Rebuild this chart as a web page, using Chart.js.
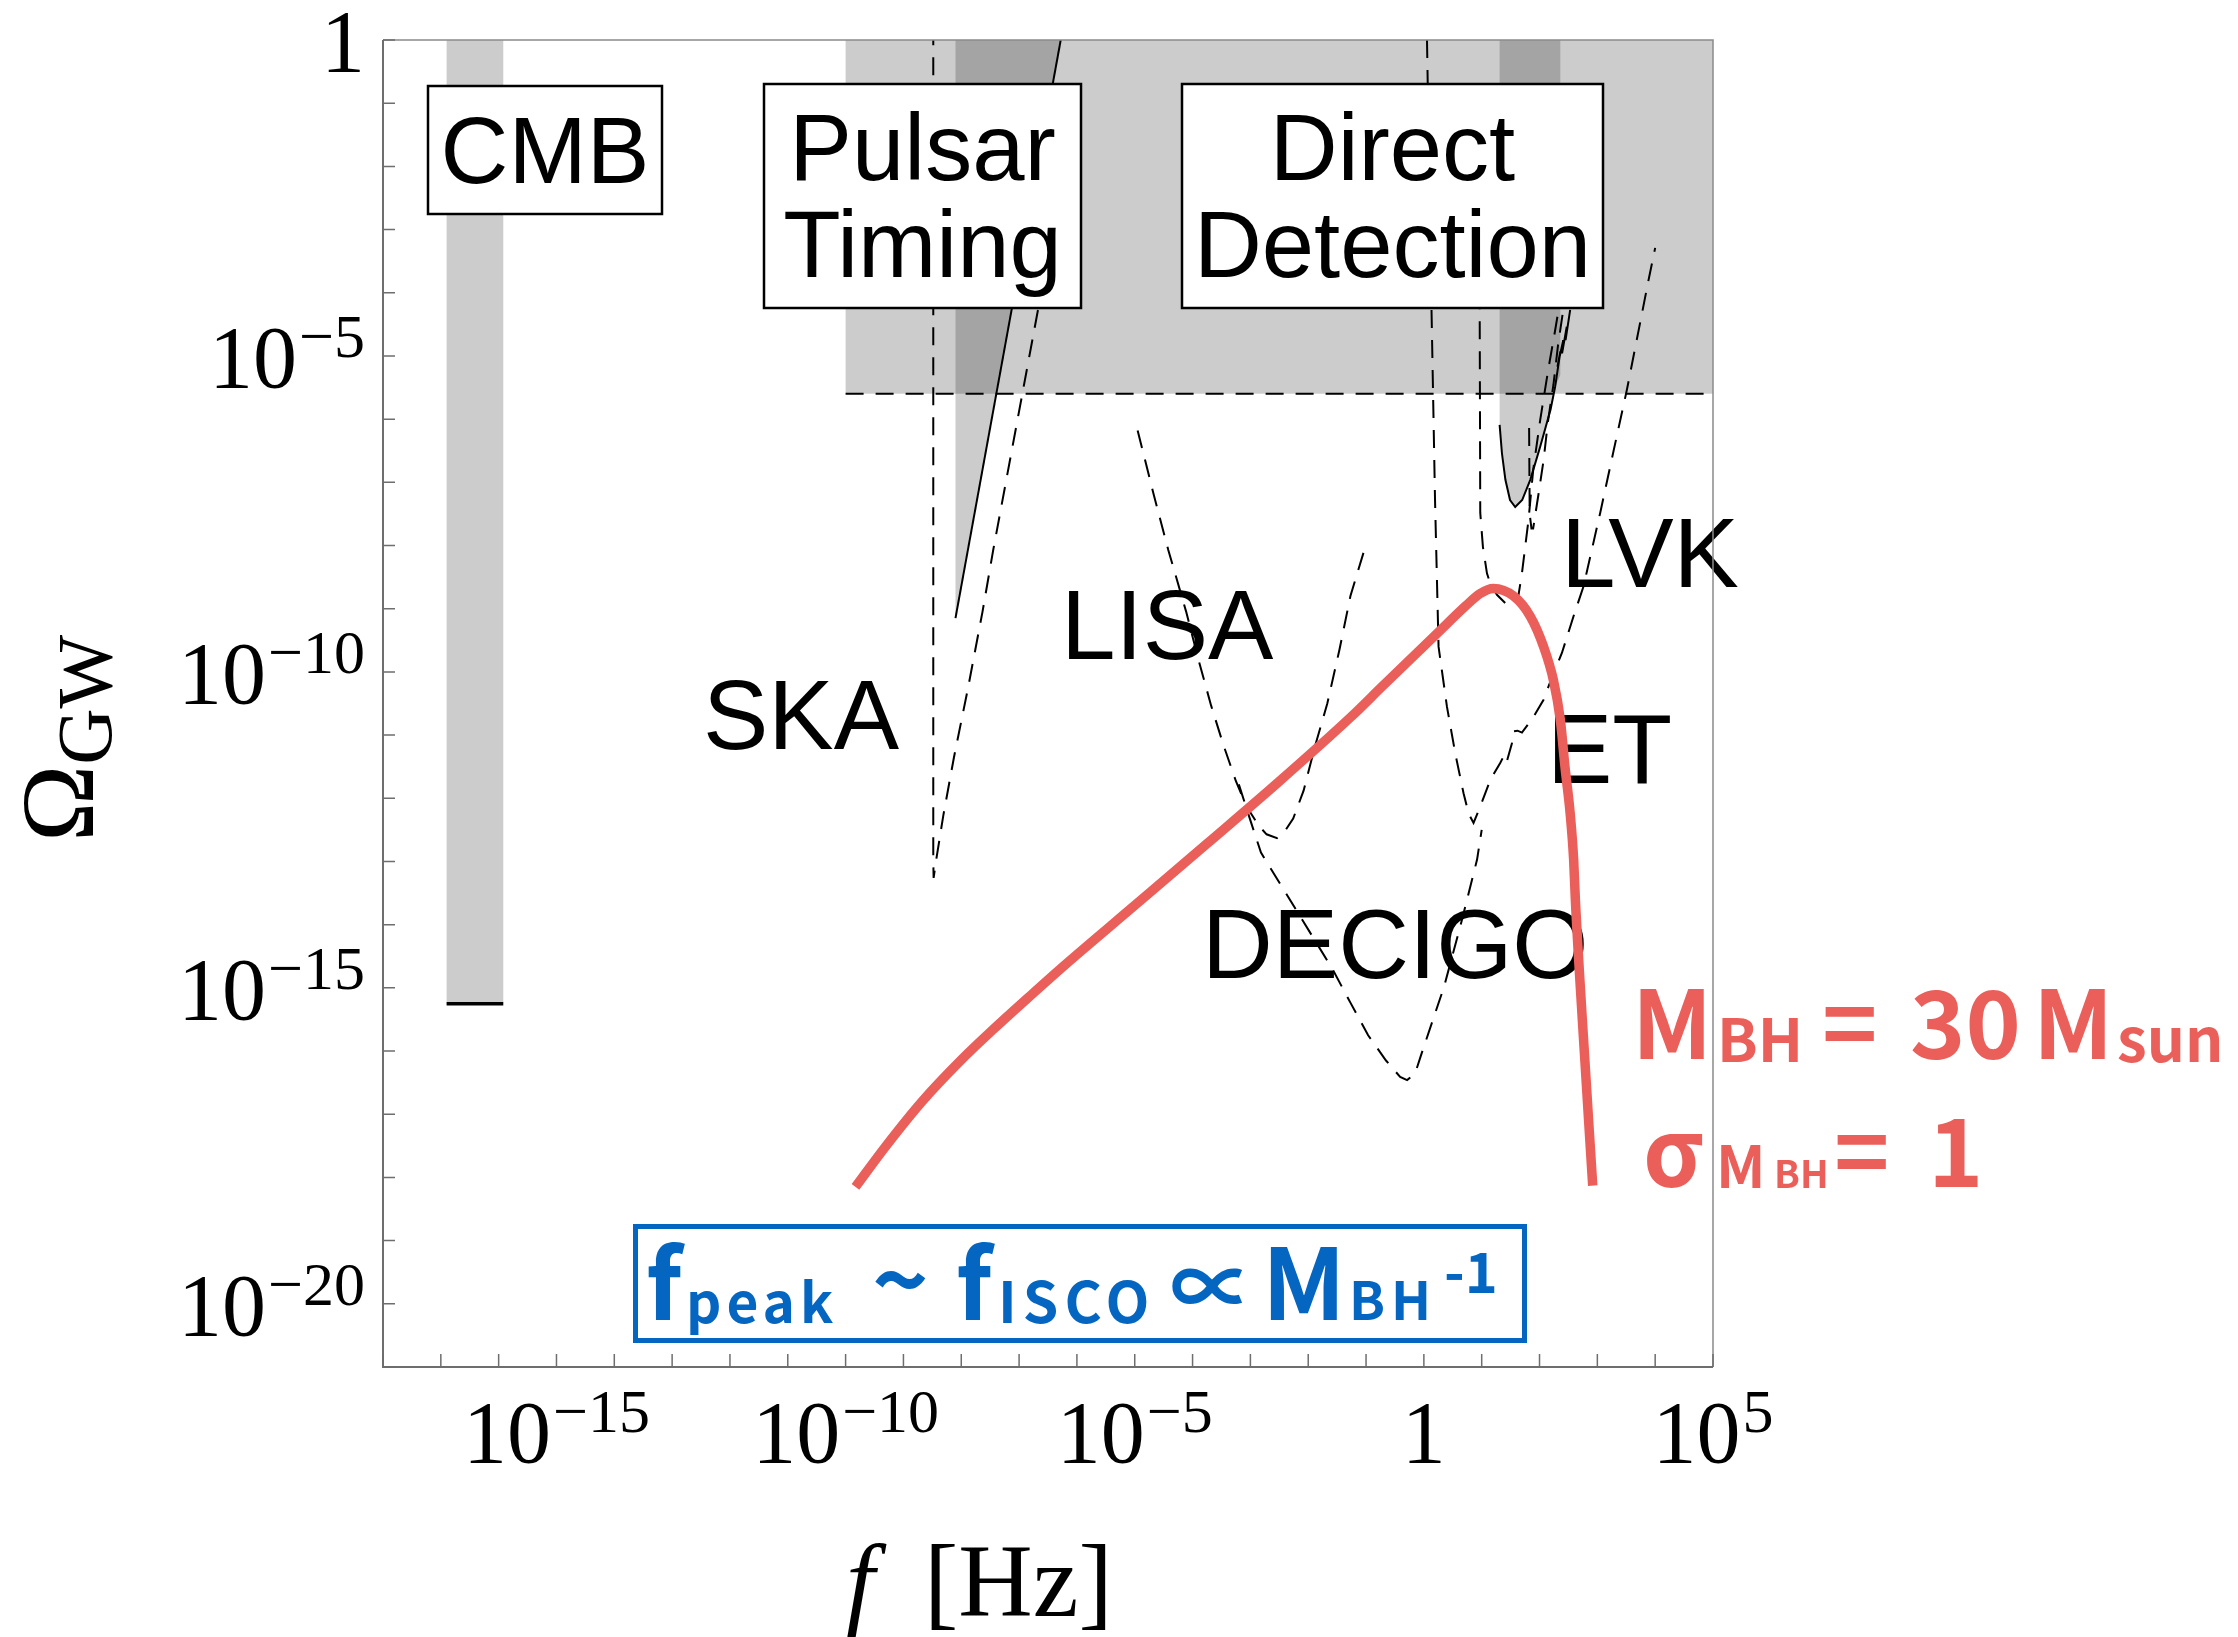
<!DOCTYPE html>
<html>
<head>
<meta charset="utf-8">
<title>Omega_GW vs f</title>
<script src="https://cdn.jsdelivr.net/npm/chart.js@4.4.1/dist/chart.umd.min.js"></script>
<style>
  html, body { margin: 0; padding: 0; background: #fff; }
  #wrap { width: 2238px; height: 1637px; }
</style>
</head>
<body>
<div id="wrap"><canvas id="gw" width="2238" height="1637"></canvas></div>
<script>
// every curve is kept as log10(f) / log10(Omega) pairs
const xRangeExp = [-18, 5];
const yRangeExp = [-21, 0];
const xTickExps = [-15, -10, -5, 0, 5];
const yTickExps = [0, -5, -10, -15, -20];

// shaded constraint regions
const cmbLogF = [-16.9, -15.92, -15.92, -16.9, -16.9];
const cmbLogOmega = [-15.25, -15.25, 0.2, 0.2, -15.25];
const directLogF = [-10, 5.3, 5.3, -10, -10];
const directLogOmega = [-5.6, -5.6, 0.2, 0.2, -5.6];
const ptaWedgeLogF = [-8.1, -8.1, -6.28, -6.2, -8.1];
const ptaWedgeLogOmega = [0.2, -9.15, 0, 0.2, 0.2];
const lvkBandLogF = [1.31, 1.31, 1.35, 1.41, 1.49, 1.58, 1.70, 1.84, 2.01, 2.19, 2.27, 2.36, 2.36, 1.31];
const lvkBandLogOmega = [0.2, -6.09, -6.54, -6.96, -7.28, -7.39, -7.28, -6.96, -6.44, -5.85, -5.49, -5.3, 0.2, 0.2];

// boundary lines
const cmbEdgeLogF = [-16.9, -15.92];
const cmbEdgeLogOmega = [-15.25, -15.25];
const directEdgeLogF = [-10, 5];
const directEdgeLogOmega = [-5.6, -5.6];
const ptaLineLogF = [-8.1, -6.28];
const ptaLineLogOmega = [-9.15, 0];
const lvkO3LogF = [1.31, 1.35, 1.41, 1.49, 1.58, 1.70, 1.84, 2.01, 2.19, 2.27, 2.36, 2.31, 2.41, 2.39, 2.47, 2.45, 2.53];
const lvkO3LogOmega = [-6.09, -6.54, -6.96, -7.28, -7.39, -7.28, -6.96, -6.44, -5.85, -5.49, -4.93, -5.17, -4.75, -4.96, -4.54, -4.75, -4.27];

// future detector sensitivities (dashed)
const skaLogF = [-8.484, -8.484, -8.478, -8.436, -8.31, -8.126, -7.88, -7.633, -7.447, -6.667, -6.4];
const skaLogOmega = [0.2, -13.0, -13.26, -12.99, -12.27, -11.35, -10.24, -9.05, -8.07, -4.24, -2.9];
const lisaLogF = [-4.95, -4.67, -4.42, -4.11, -3.9, -3.68, -3.465, -3.25, -3.06, -2.85, -2.72, -2.54, -2.41, -2.26, -2.08, -1.89, -1.67, -1.46, -1.27, -1.0];
const lisaLogOmega = [-6.18, -7.2, -8.07, -9.05, -9.8, -10.53, -11.16, -11.73, -12.14, -12.44, -12.57, -12.63, -12.53, -12.32, -11.88, -11.2, -10.5, -9.65, -8.8, -7.98];
const decigoLogF = [-3.2, -3.0, -2.817, -2.508, -2.2, -1.89, -1.582, -1.273, -0.964, -0.655, -0.41, -0.29, -0.15, -0.04, 0.35, 0.66, 0.92, 1.0];
const decigoLogOmega = [-11.78, -12.35, -12.86, -13.32, -13.78, -14.24, -14.70, -15.23, -15.75, -16.15, -16.41, -16.46, -16.35, -16.04, -14.98, -13.92, -12.97, -12.5];
const etLogF = [0.054, 0.133, 0.193, 0.254, 0.399, 0.543, 0.686, 0.773, 0.859, 0.975, 1.148, 1.32, 1.40, 1.44, 1.523, 1.55, 1.62, 1.696, 1.897, 2.07, 2.243, 2.387, 2.588, 2.76, 3.05, 3.274, 3.51, 3.885, 4.0];
const etLogOmega = [0, -4.31, -7.28, -9.60, -10.55, -11.29, -11.92, -12.24, -12.39, -12.13, -11.71, -11.44, -11.3, -11.4, -11.13, -10.94, -10.93, -10.96, -10.71, -10.44, -10.02, -9.70, -9.12, -8.65, -7.48, -6.53, -5.54, -3.80, -3.29];
const lvkLogF = [0.963, 0.975, 1.021, 1.091, 1.148, 1.264, 1.407, 1.523, 1.637, 1.696, 1.81, 1.891, 2.012, 2.15, 2.271, 2.358];
const lvkLogOmega = [-3.5, -7.48, -8.02, -8.44, -8.60, -8.78, -8.91, -8.94, -8.78, -8.44, -7.59, -6.80, -6.01, -5.22, -4.59, -4.11];
const lvkDesignLogF = [1.82, 1.83, 1.86, 1.89, 1.98, 2.07, 2.15, 2.24, 2.32, 2.41];
const lvkDesignLogOmega = [-6.14, -7.5, -7.73, -7.73, -7.2, -6.65, -6.01, -5.46, -4.83, -4.27];

// PBH-merger spectrum, M_BH = 30 M_sun, sigma = 1
const pbhLogF = [-9.83, -9.3, -8.68, -8.0, -7.45, -6.8, -6.21, -4.98, -3.74, -2.51, -1.27, -0.72, 0.23, 0.73, 0.975, 1.2, 1.55, 1.84, 2.07, 2.24, 2.36, 2.44, 2.53, 2.59, 2.62, 2.74, 2.92];
const pbhLogOmega = [-18.15, -17.5, -16.8, -16.14, -15.66, -15.12, -14.64, -13.68, -12.71, -11.74, -10.72, -10.23, -9.39, -8.95, -8.76, -8.68, -8.80, -9.12, -9.60, -10.13, -10.76, -11.50, -12.24, -12.97, -13.61, -15.5, -18.13];

const SANS = '"Liberation Sans", Arial, Helvetica, sans-serif';
const SERIF = '"Liberation Serif", "Times New Roman", serif';
const GOTHIC = '"Noto Sans CJK JP", "Noto Sans", sans-serif';
const RED = '#ea5f5a';
const BLUE = '#0566c2';
const SHADE = 'rgba(0,0,0,0.2)';

function toPoints(logX, logY) {
    return logX.map((lx, i) => ({ x: Math.pow(10, lx), y: Math.pow(10, logY[i]) }));
}

function region(logX, logY) {
    return {
        data: toPoints(logX, logY), showLine: true, pointRadius: 0,
        borderWidth: 0, borderColor: 'rgba(0,0,0,0)', backgroundColor: SHADE,
        fill: 'shape', order: 5
    };
}

function curve(logX, logY, opts) {
    return Object.assign({
        data: toPoints(logX, logY), showLine: true, pointRadius: 0,
        borderColor: '#000', borderWidth: 2, borderDash: [18, 12], fill: false, order: 2
    }, opts || {});
}

const datasets = [
    curve(pbhLogF, pbhLogOmega, { borderColor: RED, borderWidth: 9.5, borderDash: [], cubicInterpolationMode: 'monotone', order: 0, borderCapStyle: 'butt' }),
    region(cmbLogF, cmbLogOmega),
    region(directLogF, directLogOmega),
    region(ptaWedgeLogF, ptaWedgeLogOmega),
    region(lvkBandLogF, lvkBandLogOmega),
    curve(cmbEdgeLogF, cmbEdgeLogOmega, { borderWidth: 3.5, borderDash: [] }),
    curve(directEdgeLogF, directEdgeLogOmega),
    curve(ptaLineLogF, ptaLineLogOmega, { borderDash: [] }),
    curve(lvkO3LogF, lvkO3LogOmega, { borderDash: [] }),
    curve(skaLogF, skaLogOmega),
    curve(lisaLogF, lisaLogOmega),
    curve(decigoLogF, decigoLogOmega),
    curve(etLogF, etLogOmega),
    curve(lvkLogF, lvkLogOmega),
    curve(lvkDesignLogF, lvkDesignLogOmega)
];

// boxed headings and detector names
const boxes = [
    { x: 428, y: 86, w: 234, h: 128, lines: ['CMB'], base: [183] },
    { x: 764, y: 84, w: 317, h: 224, lines: ['Pulsar', 'Timing'], base: [180, 277] },
    { x: 1182, y: 84, w: 421, h: 224, lines: ['Direct', 'Detection'], base: [180, 277] }
];
const detectorLabels = [
    { text: 'SKA', x: 703, y: 749 },
    { text: 'LISA', x: 1061, y: 659 },
    { text: 'LVK', x: 1561, y: 587 },
    { text: 'ET', x: 1547, y: 783 },
    { text: 'DECIGO', x: 1202, y: 978 }
];

const labelLayer = {
    id: 'labelLayer',
    beforeDatasetDraw(chart, args) {
        if (args.index !== 0) return;
        const ctx = chart.ctx;
        ctx.save();
        ctx.textBaseline = 'alphabetic';
        ctx.font = `94px ${SANS}`;
        boxes.forEach(b => {
            ctx.fillStyle = '#fff';
            ctx.fillRect(b.x, b.y, b.w, b.h);
            ctx.strokeStyle = '#000';
            ctx.lineWidth = 2.5;
            ctx.strokeRect(b.x, b.y, b.w, b.h);
            ctx.fillStyle = '#000';
            ctx.textAlign = 'center';
            b.lines.forEach((t, i) => ctx.fillText(t, b.x + b.w / 2, b.base[i]));
        });
        ctx.textAlign = 'left';
        ctx.font = `98px ${SANS}`;
        detectorLabels.forEach(l => ctx.fillText(l.text, l.x, l.y));
        ctx.restore();
    }
};

function drawPower(ctx, exp, x, y, align) {
    const base = exp === 0 ? '1' : '10';
    const sup = exp === 0 ? '' : (exp < 0 ? '\u2212' + (-exp) : String(exp));
    ctx.font = `88px ${SERIF}`;
    const wb = ctx.measureText(base).width;
    ctx.font = `62px ${SERIF}`;
    const ws = sup ? ctx.measureText(sup).width + 2 : 0;
    const total = wb + ws;
    let left = align === 'center' ? x - total / 2 : x - total;
    ctx.textAlign = 'left';
    ctx.font = `88px ${SERIF}`;
    ctx.fillText(base, left, y);
    if (sup) {
        ctx.font = `62px ${SERIF}`;
        ctx.fillText(sup, left + wb + 2, y - 30);
    }
}

const axisLayer = {
    id: 'axisLayer',
    afterDatasetsDraw(chart) {
        const ctx = chart.ctx;
        const a = chart.chartArea;
        const xs = chart.scales.x, ys = chart.scales.y;
        ctx.save();
        // frame
        ctx.strokeStyle = '#8a8a8a';
        ctx.lineWidth = 1.5;
        ctx.beginPath();
        ctx.moveTo(a.left, a.top); ctx.lineTo(a.right, a.top); ctx.lineTo(a.right, a.bottom);
        ctx.stroke();
        ctx.strokeStyle = '#6e6e6e';
        ctx.lineWidth = 2;
        ctx.beginPath();
        ctx.moveTo(a.left, a.top); ctx.lineTo(a.left, a.bottom); ctx.lineTo(a.right, a.bottom);
        ctx.stroke();
        // decade ticks pointing inward
        ctx.lineWidth = 1.5;
        ctx.beginPath();
        for (let e = yRangeExp[0]; e <= yRangeExp[1]; e++) {
            const py = ys.getPixelForValue(Math.pow(10, e));
            ctx.moveTo(a.left, py); ctx.lineTo(a.left + 12, py);
        }
        for (let e = xRangeExp[0]; e <= xRangeExp[1]; e++) {
            const px = xs.getPixelForValue(Math.pow(10, e));
            ctx.moveTo(px, a.bottom); ctx.lineTo(px, a.bottom - 13);
        }
        ctx.stroke();
        // tick labels
        ctx.fillStyle = '#000';
        ctx.textBaseline = 'alphabetic';
        xTickExps.forEach(e => drawPower(ctx, e, xs.getPixelForValue(Math.pow(10, e)), 1462, 'center'));
        yTickExps.forEach(e => drawPower(ctx, e, 365, ys.getPixelForValue(Math.pow(10, e)) + 31, 'right'));
        // axis titles
        ctx.font = `italic 103px ${SERIF}`;
        ctx.fillText('f', 846, 1616);
        ctx.font = `103px ${SERIF}`;
        ctx.fillText('[Hz]', 924, 1616);
        ctx.translate(93, 842);
        ctx.rotate(-Math.PI / 2);
        ctx.font = `104px ${SERIF}`;
        ctx.fillText('\u03A9', 0, 0);
        const wo = ctx.measureText('\u03A9').width;
        ctx.font = `78px ${SERIF}`;
        ctx.fillText('GW', wo, 18);
        ctx.restore();
    }
};

// text runs: [text, left x, font size, baseline shift, letter spacing]
const massLine = [['M', 1632, 94, 0, 0], ['BH', 1717, 60, 3, 0], ['=', 1822, 94, 0, 0], ['30', 1910, 94, 0, 0], ['M', 2033, 94, 0, 0], ['sun', 2117, 60, 3, 0]];
const widthLine = [['\u03C3', 1643, 94, 0, 0], ['M', 1716, 58, 1, 0], ['BH', 1774, 38, 1, 0], ['=', 1834, 94, 0, 0], ['1', 1928, 94, 0, 0]];
const scalingLine = [['f', 646, 96, 0, 0], ['peak', 686, 55, 3, 5], ['~', 872, 96, -4, 0], ['f', 956, 96, 0, 0], ['ISCO', 998, 57, 3, 6], ['\u221D', 1170, 84, -2, 0], ['M', 1262, 98, 0, 0], ['BH', 1349, 53, 0, 6], ['-1', 1444, 56, -27, 0]];

function drawRuns(ctx, runs, baseline) {
    runs.forEach(([t, x, size, dy, ls]) => {
        ctx.font = `bold ${size}px ${GOTHIC}`;
        ctx.letterSpacing = ls + 'px';
        ctx.fillText(t, x, baseline + dy);
    });
    ctx.letterSpacing = '0px';
}

const noteLayer = {
    id: 'noteLayer',
    afterDraw(chart) {
        const ctx = chart.ctx;
        ctx.save();
        ctx.textAlign = 'left';
        ctx.textBaseline = 'alphabetic';
        ctx.fillStyle = RED;
        drawRuns(ctx, massLine, 1059);
        drawRuns(ctx, widthLine, 1187);
        ctx.strokeStyle = BLUE;
        ctx.lineWidth = 5;
        ctx.strokeRect(635.5, 1226.5, 889, 114);
        ctx.fillStyle = BLUE;
        drawRuns(ctx, scalingLine, 1320);
        ctx.restore();
    }
};

new Chart(document.getElementById('gw'), {
    type: 'scatter',
    data: { datasets: datasets },
    options: {
        responsive: false,
        animation: false,
        events: [],
        layout: { padding: { left: 383, top: 40, right: 525, bottom: 270 } },
        scales: {
            x: { type: 'logarithmic', display: false, min: Math.pow(10, xRangeExp[0]), max: Math.pow(10, xRangeExp[1]) },
            y: { type: 'logarithmic', display: false, min: Math.pow(10, yRangeExp[0]), max: Math.pow(10, yRangeExp[1]) }
        },
        plugins: { legend: { display: false }, tooltip: { enabled: false } }
    },
    plugins: [labelLayer, axisLayer, noteLayer]
});
</script>
</body>
</html>
